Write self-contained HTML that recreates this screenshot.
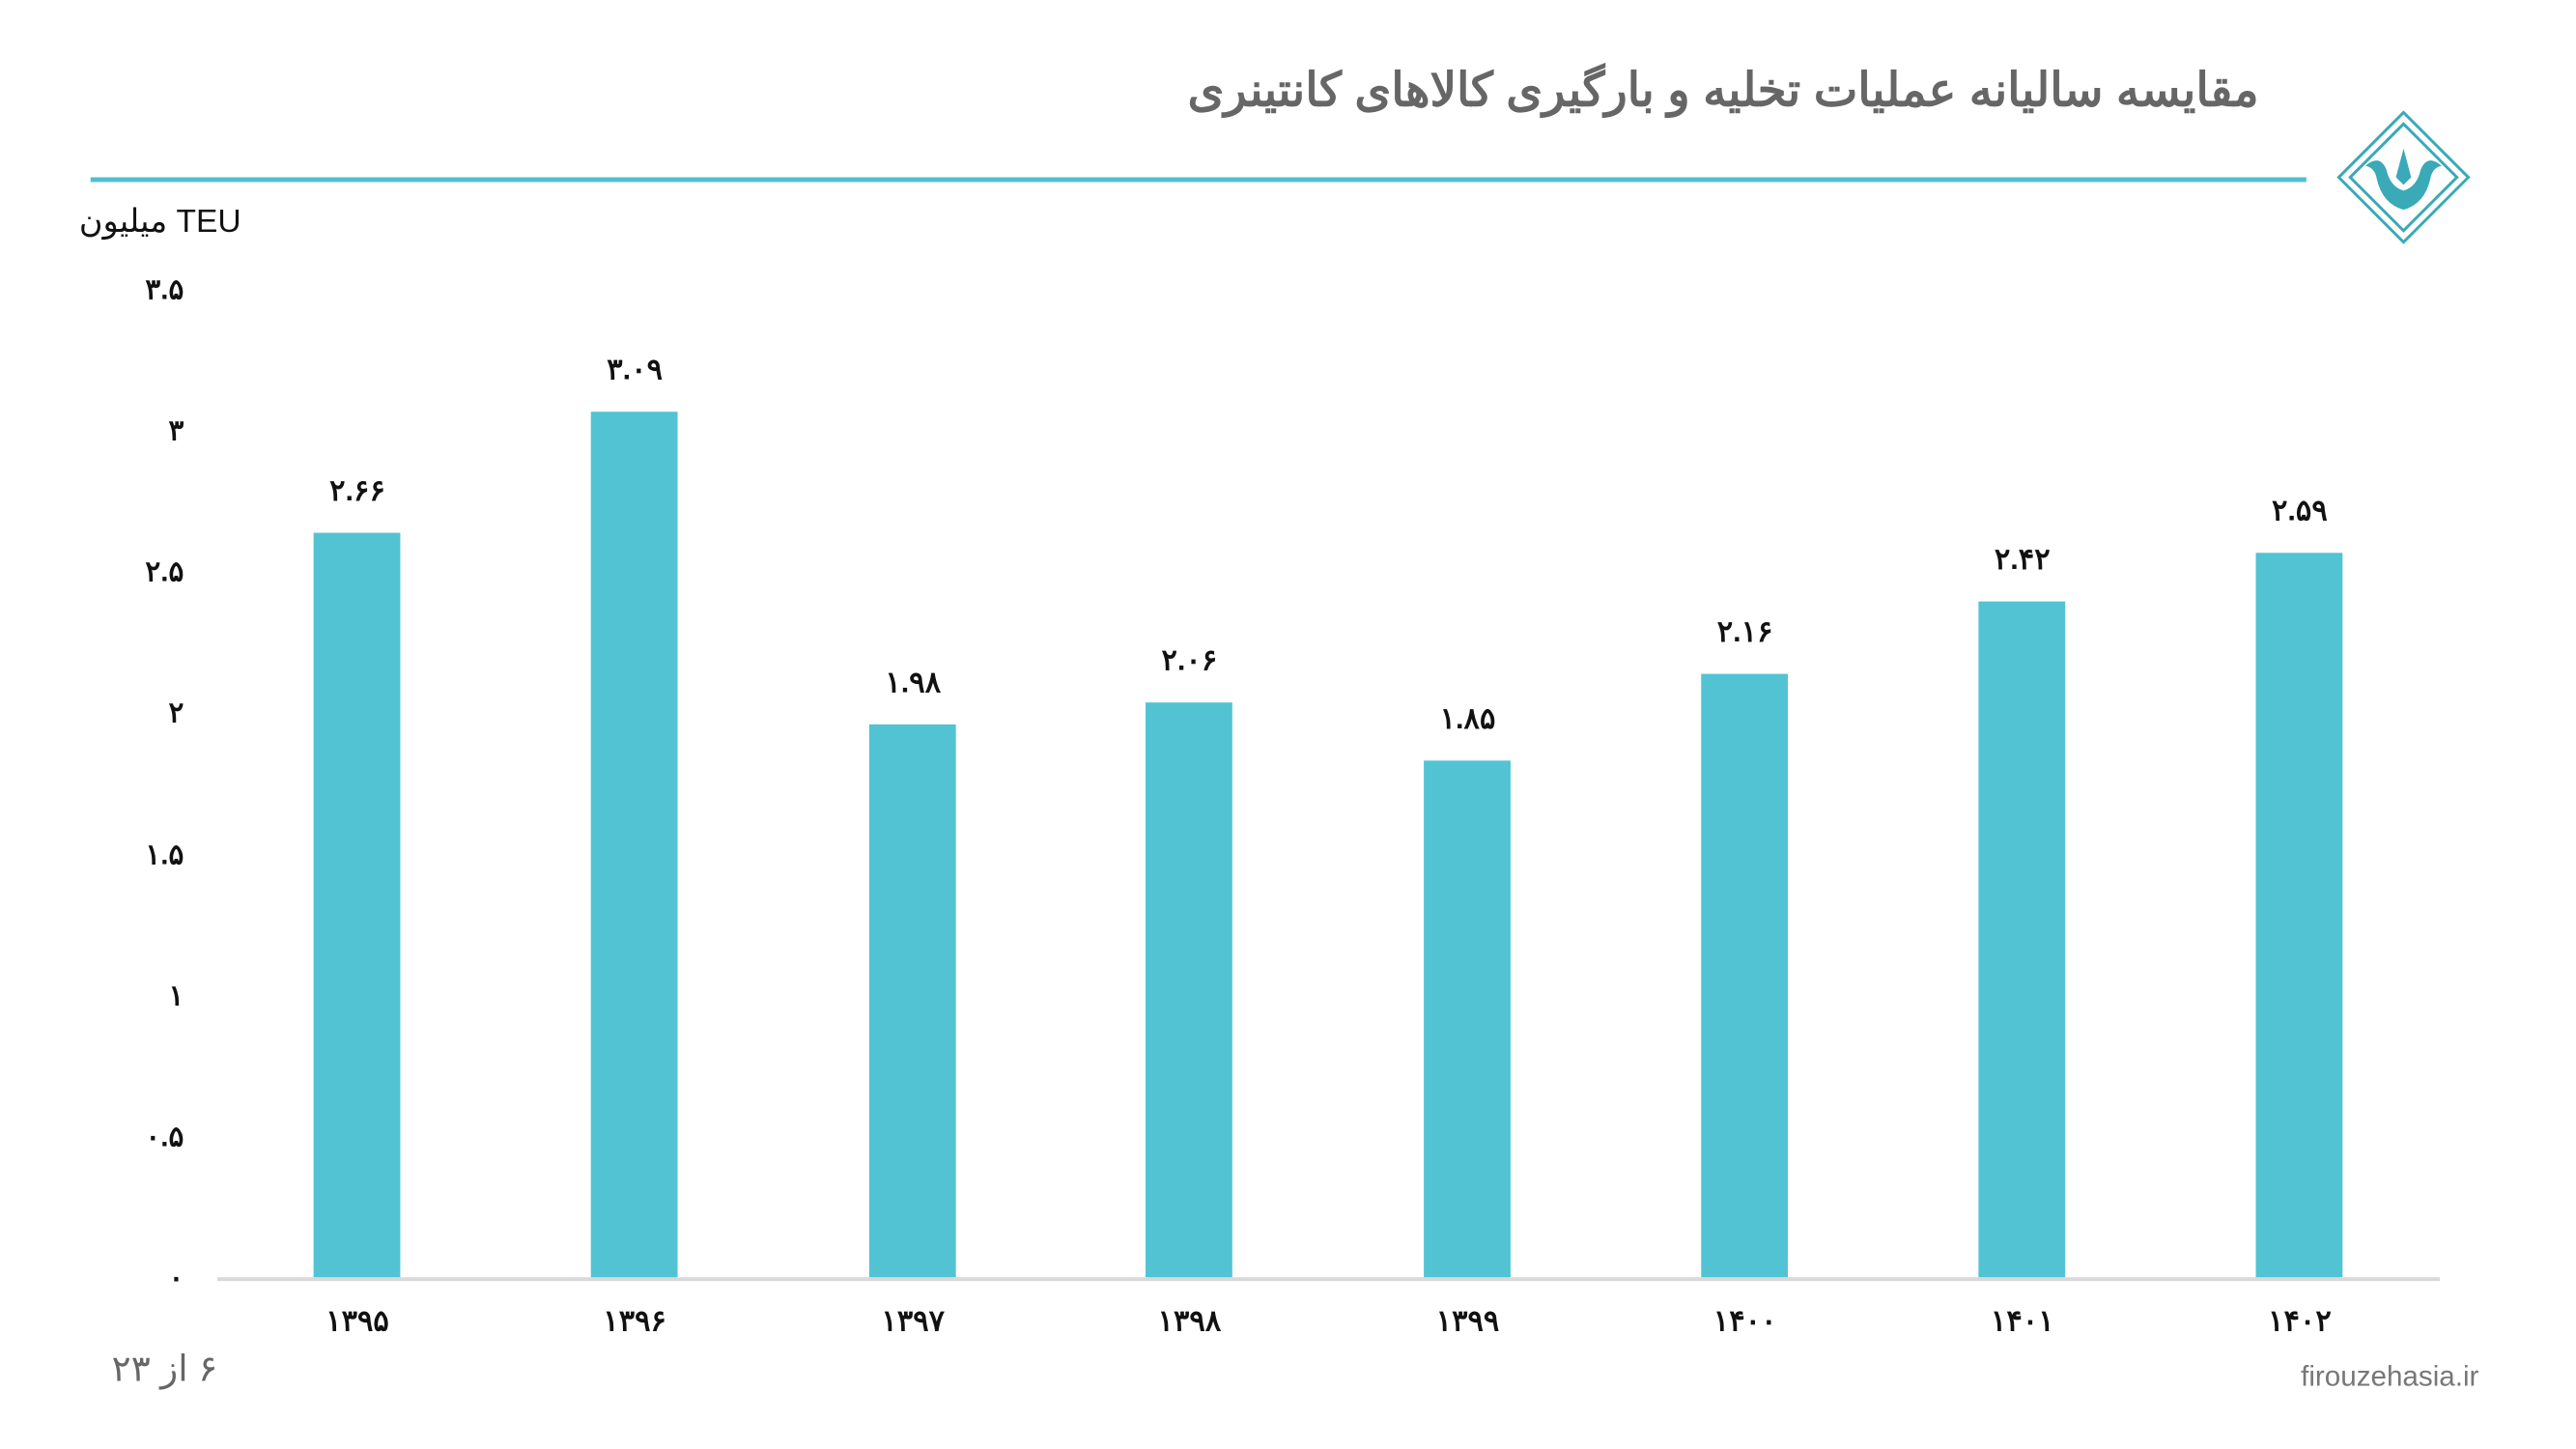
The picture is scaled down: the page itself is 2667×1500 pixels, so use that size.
<!DOCTYPE html>
<html><head><meta charset="utf-8">
<style>
body{margin:0;width:2667px;height:1500px;background:#fff;position:relative;overflow:hidden;font-family:"Liberation Sans","Noto Sans CJK SC",sans-serif;}
#w{position:absolute;left:0;top:0;width:2667px;height:1500px;transform:scale(0.9867);transform-origin:0 0;}
.a{position:absolute;white-space:nowrap;}
.bar{position:absolute;width:91px;background:#52c3d2;}
.yl{position:absolute;right:2474px;font-size:30px;font-weight:bold;color:#111;transform:translateY(-50%);}
.vl{position:absolute;width:160px;text-align:center;font-size:31px;font-weight:bold;color:#111;}
.xl{position:absolute;width:160px;text-align:center;font-size:31px;font-weight:bold;color:#111;top:1368px;}
</style></head><body><div id="w">
<div class="a" style="right:297px;top:66px;font-size:49px;font-weight:bold;color:#666;direction:rtl;">مقایسه سالیانه عملیات تخلیه و بارگیری کالاهای کانتینری</div>
<div class="a" style="left:95px;top:186px;width:2325px;height:5px;background:#4fbfcf;"></div>
<svg class="a" style="left:2452px;top:116px" width="140" height="140" viewBox="0 0 140 140">
<g fill="none" stroke="#3aa9b8" stroke-width="3">
<polygon points="70,2 138,70 70,138 2,70"/>
<polygon points="70,14 126,70 70,126 14,70"/>
</g>
<path d="M30,58 Q45,45 52,62 Q56,80 70,84 Q84,80 88,62 Q95,45 110,58 Q100,60 98,72 Q92,98 70,104 Q48,98 42,72 Q40,60 30,58Z" fill="#3aa9b8"/>
<path d="M70,40 L62,70 L70,78 L78,70Z" fill="#3aa9b8"/>
</svg>
<div class="a" style="left:83px;top:212px;font-size:34px;color:#111;">میلیون TEU</div>
<div class="yl" style="top:304px">۳.۵</div>
<div class="yl" style="top:452px">۳</div>
<div class="yl" style="top:600px">۲.۵</div>
<div class="yl" style="top:748px">۲</div>
<div class="yl" style="top:897px">۱.۵</div>
<div class="yl" style="top:1045px">۱</div>
<div class="yl" style="top:1193px">۰.۵</div>
<div class="yl" style="top:1341px">۰</div>
<div class="a" style="left:228px;top:1340px;width:2332px;height:4px;background:#d9d9d9;"></div>

<div class="bar" style="left:329px;top:559px;height:781px"></div>
<div class="bar" style="left:620px;top:432px;height:908px"></div>
<div class="bar" style="left:912px;top:760px;height:580px"></div>
<div class="bar" style="left:1202px;top:737px;height:603px"></div>
<div class="bar" style="left:1494px;top:798px;height:542px"></div>
<div class="bar" style="left:1785px;top:707px;height:633px"></div>
<div class="bar" style="left:2076px;top:631px;height:709px"></div>
<div class="bar" style="left:2367px;top:580px;height:760px"></div>

<div class="vl" style="left:295px;top:497px">۲.۶۶</div>
<div class="vl" style="left:586px;top:370px">۳.۰۹</div>
<div class="vl" style="left:878px;top:698px">۱.۹۸</div>
<div class="vl" style="left:1168px;top:675px">۲.۰۶</div>
<div class="vl" style="left:1460px;top:736px">۱.۸۵</div>
<div class="vl" style="left:1751px;top:645px">۲.۱۶</div>
<div class="vl" style="left:2042px;top:569px">۲.۴۲</div>
<div class="vl" style="left:2333px;top:518px">۲.۵۹</div>

<div class="xl" style="left:295px">۱۳۹۵</div>
<div class="xl" style="left:586px">۱۳۹۶</div>
<div class="xl" style="left:878px">۱۳۹۷</div>
<div class="xl" style="left:1168px">۱۳۹۸</div>
<div class="xl" style="left:1460px">۱۳۹۹</div>
<div class="xl" style="left:1751px">۱۴۰۰</div>
<div class="xl" style="left:2042px">۱۴۰۱</div>
<div class="xl" style="left:2333px">۱۴۰۲</div>

<div class="a" style="left:117px;top:1414px;font-size:38px;color:#666;direction:rtl;">۶ از ۲۳</div>
<div class="a" style="right:66px;top:1428px;font-size:30px;color:#777;">firouzehasia.ir</div>
</div></body></html>
